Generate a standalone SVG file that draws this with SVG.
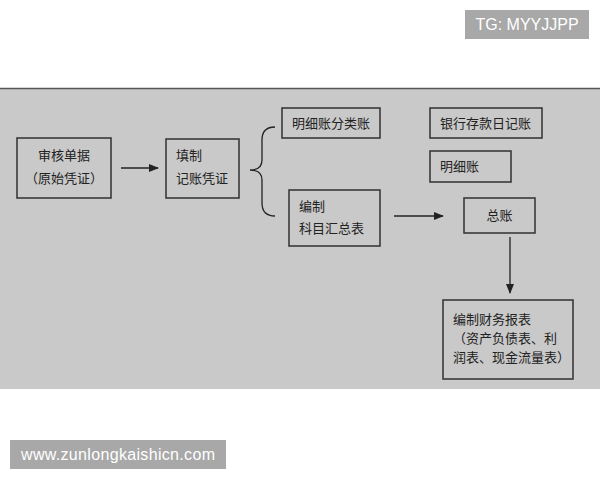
<svg xmlns="http://www.w3.org/2000/svg" width="600" height="480" viewBox="0 0 600 480">
<defs>
<marker id="ah" markerWidth="10" markerHeight="8" refX="9" refY="4" orient="auto" markerUnits="userSpaceOnUse">
<path d="M0,0 L10,4 L0,8 z" fill="#222"/>
</marker>
<style>
.box{fill:none;stroke:#3a3a3a;stroke-width:1.6}
.t{font-family:"Noto Sans CJK SC","Noto Sans",sans-serif;font-size:13px;fill:#222}
.c{stroke:#222;stroke-width:1.3;fill:none}
.wm{fill:#a8a8a8}
.wt{font-family:"Liberation Sans",Arial,sans-serif;font-size:16px;fill:#fff}
</style>
</defs>
<rect x="0" y="0" width="600" height="480" fill="#fff"/>
<rect x="0" y="89" width="600" height="300" fill="#c9c9c9"/>
<line x1="0" y1="88.5" x2="600" y2="88.5" stroke="#555" stroke-width="1.5"/>
<g id="n1">
<rect class="box" x="17" y="138" width="94" height="60"/>
<text class="t" x="64" y="160" text-anchor="middle">审核单据</text>
<text class="t" x="64" y="183" text-anchor="middle">（原始凭证）</text>
</g>
<g id="n2">
<rect class="box" x="166" y="139" width="73" height="59"/>
<text class="t" x="176" y="160">填制</text>
<text class="t" x="176" y="183">记账凭证</text>
</g>
<g id="n3">
<rect class="box" x="282" y="108" width="98" height="30"/>
<text class="t" x="292" y="128">明细账分类账</text>
</g>
<g id="n4">
<rect class="box" x="430" y="108" width="112" height="30"/>
<text class="t" x="440" y="128">银行存款日记账</text>
</g>
<g id="n5">
<rect class="box" x="430" y="151" width="81" height="31"/>
<text class="t" x="440" y="171">明细账</text>
</g>
<g id="n6">
<rect class="box" x="289" y="190" width="91" height="56"/>
<text class="t" x="299" y="211">编制</text>
<text class="t" x="299" y="233">科目汇总表</text>
</g>
<g id="n7">
<rect class="box" x="464" y="198" width="71" height="35"/>
<text class="t" x="499.5" y="220" text-anchor="middle">总账</text>
</g>
<g id="n8">
<rect class="box" x="443" y="300" width="130" height="79"/>
<text class="t" x="453" y="324">编制财务报表</text>
<text class="t" x="453" y="343">（资产负债表、利</text>
<text class="t" x="453" y="362">润表、现金流量表）</text>
</g>
<g id="connectors">
<line class="c" x1="121" y1="168" x2="158" y2="168" marker-end="url(#ah)"/>
<path class="c" d="M275,127 Q262,127 262,140 L262,160 Q262,170 250,170 Q262,170 262,180 L262,203 Q262,216 275,216"/>
<line class="c" x1="394" y1="216" x2="443" y2="216" marker-end="url(#ah)"/>
<line class="c" x1="510" y1="237" x2="510" y2="293" marker-end="url(#ah)"/>
</g>
<rect class="wm" x="465" y="10" width="124" height="29"/>
<text class="wt" x="527" y="30" text-anchor="middle">TG: MYYJJPP</text>
<rect class="wm" x="10" y="440" width="216" height="29"/>
<text class="wt" x="118" y="460" text-anchor="middle" textLength="194">www.zunlongkaishicn.com</text>
</svg>
